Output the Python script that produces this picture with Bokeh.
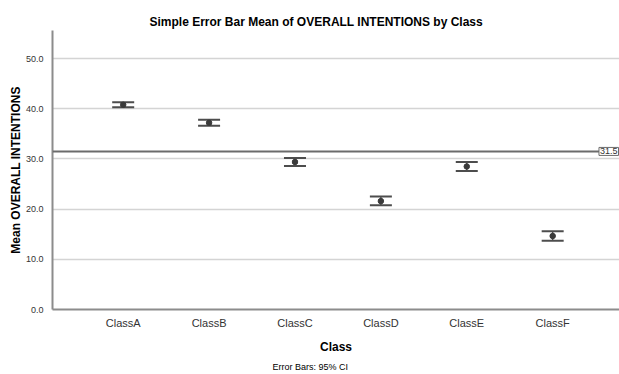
from bokeh.plotting import figure
from bokeh.models import (ColumnDataSource, Whisker, TeeHead, Span, Label, Range1d,
                          FixedTicker, PrintfTickFormatter, Title)
from bokeh.embed import file_html
from bokeh.resources import INLINE

classes = ["ClassA", "ClassB", "ClassC", "ClassD", "ClassE", "ClassF"]
means = [40.8, 37.2, 29.4, 21.6, 28.5, 14.65]
ci_lower = [40.3, 36.6, 28.6, 20.8, 27.6, 13.7]
ci_upper = [41.3, 37.8, 30.2, 22.5, 29.4, 15.6]
grand_mean = 31.5
y_ticks = [0, 10, 20, 30, 40, 50]

FONT = "Liberation Sans"
xs = list(range(len(classes)))
src = ColumnDataSource(dict(x=xs, mean=means, lo=ci_lower, hi=ci_upper))

p = figure(width=619, height=374, output_backend="svg", toolbar_location=None,
           x_range=Range1d(-0.823, 5.778), y_range=Range1d(0, 55.6),
           min_border_left=52, min_border_right=0, min_border_top=30, min_border_bottom=65)
p.outline_line_color = None
p.background_fill_color = "white"

p.title.text = "Simple Error Bar Mean of OVERALL INTENTIONS by Class"
p.title.text_font = FONT
p.title.text_font_size = "12px"
p.title.text_font_style = "bold"
p.title.text_color = "#000000"
p.title.align = "left"
p.title.offset = 97
p.title.standoff = 3

# grid
p.xgrid.grid_line_color = None
p.ygrid.grid_line_color = "#d4d4d4"
p.ygrid.grid_line_width = 1.5
p.yaxis.ticker = FixedTicker(ticks=y_ticks)
p.xaxis.ticker = FixedTicker(ticks=xs)
p.xaxis.major_label_overrides = {i: c for i, c in enumerate(classes)}
p.yaxis.formatter = PrintfTickFormatter(format="%.1f")

for ax in (p.xaxis, p.yaxis):
    ax.axis_line_color = "#8c8c8c"
    ax.axis_line_width = 2
    ax.major_tick_line_color = None
    ax.minor_tick_line_color = None
    ax.axis_label_text_font = FONT
    ax.axis_label_text_font_style = "bold"
    ax.axis_label_text_font_size = "12px"
    ax.axis_label_text_color = "#000000"
    ax.major_label_text_font = FONT
    ax.major_label_text_color = "#333333"

p.yaxis.axis_label = "Mean OVERALL INTENTIONS"
p.yaxis.major_label_text_font_size = "9px"
p.yaxis.major_label_standoff = 3
p.yaxis.axis_label_standoff = 0
p.xaxis.axis_label = "Class"
p.xaxis.major_label_text_font_size = "11px"
p.xaxis.major_label_standoff = 1
p.xaxis.axis_label_standoff = 8

p.add_layout(Title(text="Error Bars: 95% CI", text_font=FONT, text_font_size="9px",
                   text_font_style="normal", text_color="#000000",
                   align="left", offset=220, standoff=6), "below")

# reference line
p.add_layout(Span(location=grand_mean, dimension="width", line_color="#6b6b6b", line_width=2))
p.add_layout(Label(x=5.778, y=grand_mean, text=str(grand_mean), text_align="right",
                   text_baseline="middle", text_font=FONT, text_font_size="9px",
                   text_color="#333333", border_line_color="#6b6b6b", border_line_width=1,
                   background_fill_color="white", padding=1, x_offset=-1))

# error bars
p.add_layout(Whisker(source=src, base="x", upper="hi", lower="lo", dimension="height",
                     line_color="#4d4d4d", line_width=1.5,
                     upper_head=TeeHead(size=22, line_color="#4d4d4d", line_width=2),
                     lower_head=TeeHead(size=22, line_color="#4d4d4d", line_width=2)))
p.scatter("x", "mean", source=src, size=5.5, fill_color="#3a3a3a", line_color="#3a3a3a")

open("out.html", "w").write(file_html(p, INLINE))
